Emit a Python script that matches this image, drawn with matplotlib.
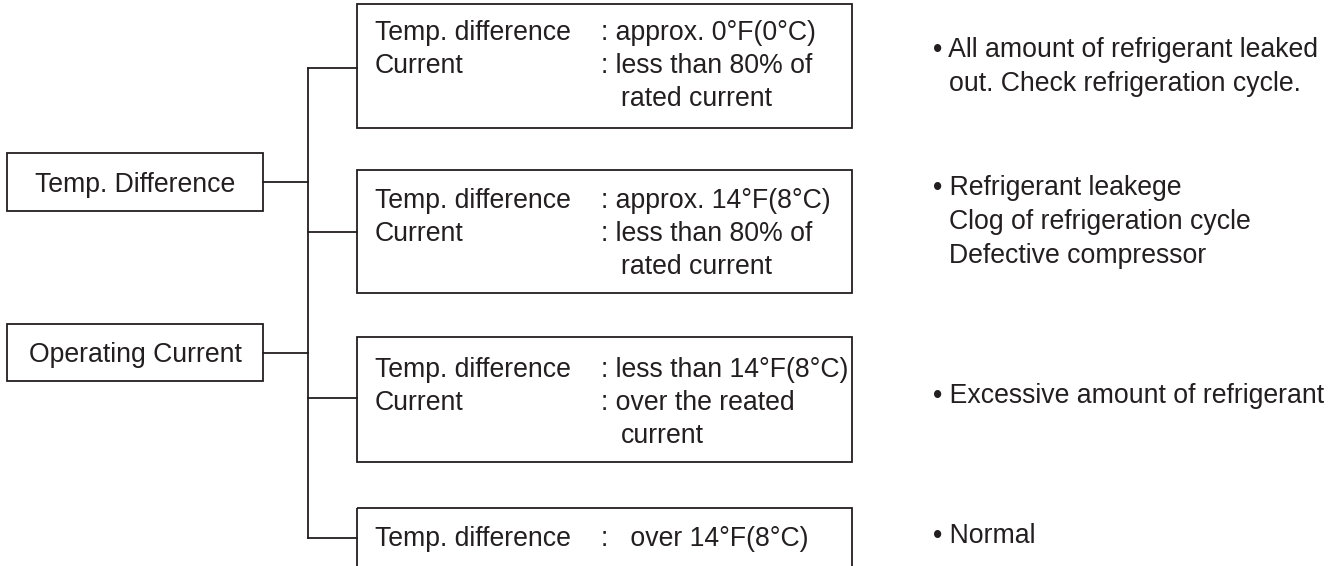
import matplotlib.pyplot as plt
from matplotlib.patches import Rectangle

# diagram text
left_labels = ["Temp. Difference", "Operating Current"]

cond_keys = [
    ["Temp. difference", "Current"],
    ["Temp. difference", "Current"],
    ["Temp. difference", "Current"],
    ["Temp. difference"],
]
cond_values = [
    [": approx. 0°F(0°C)", ": less than 80% of", "rated current"],
    [": approx. 14°F(8°C)", ": less than 80% of", "rated current"],
    [": less than 14°F(8°C)", ": over the reated", "current"],
    [":   over 14°F(8°C)"],
]

results = [
    ["All amount of refrigerant leaked", "out. Check refrigeration cycle."],
    ["Refrigerant leakege", "Clog of refrigeration cycle", "Defective compressor"],
    ["Excessive amount of refrigerant"],
    ["Normal"],
]

# layout (pixels, y down)
W, H = 1337, 566
ink = "#231f20"
fs = 19.2
lw = 1.3

left_box_y = [(153, 211), (324, 381)]
left_x0, left_x1 = 7, 263
trunk_x = 308

mid_x0, mid_x1 = 357, 852
mid_box_y = [(4, 128), (170, 293), (337, 462), (508, 600)]
mid_link_y = [68, 232, 398, 538]
first_base = [40, 208, 377, 546]
row_gap = 33

res_base = [57, 195, 403, 543]
res_gap = 34

plt.rcParams['font.family'] = ['Liberation Sans', 'DejaVu Sans']

fig = plt.figure(figsize=(W / 100, H / 100), dpi=100)
ax = fig.add_axes([0, 0, 1, 1])
ax.set_xlim(0, W)
ax.set_ylim(H, 0)
ax.axis('off')

# left boxes + links to trunk
for label, (y0, y1) in zip(left_labels, left_box_y):
    ax.add_patch(Rectangle((left_x0, y0), left_x1 - left_x0, y1 - y0,
                           fill=False, ec=ink, lw=lw))
    ym = (y0 + y1) / 2
    ax.text((left_x0 + left_x1) / 2, ym + 9.5, label, ha='center',
            va='baseline', fontsize=fs, color=ink)
    ax.plot([left_x1, trunk_x], [ym, ym], color=ink, lw=lw)

# trunk
ax.plot([trunk_x, trunk_x], [mid_link_y[0], mid_link_y[-1]], color=ink, lw=lw)

# condition boxes
for i in range(len(cond_keys)):
    y0, y1 = mid_box_y[i]
    ax.add_patch(Rectangle((mid_x0, y0), mid_x1 - mid_x0, y1 - y0,
                           fill=False, ec=ink, lw=lw, clip_on=True))
    ax.plot([trunk_x, mid_x0], [mid_link_y[i], mid_link_y[i]], color=ink, lw=lw)
    for j, key in enumerate(cond_keys[i]):
        ax.text(375, first_base[i] + j * row_gap, key, ha='left',
                va='baseline', fontsize=fs, color=ink)
    for j, val in enumerate(cond_values[i]):
        x = 601 if val.startswith(":") else 621
        ax.text(x, first_base[i] + j * row_gap, val, ha='left',
                va='baseline', fontsize=fs, color=ink)

# results column
for i, lines in enumerate(results):
    for j, line in enumerate(lines):
        y = res_base[i] + j * res_gap
        if j == 0:
            ax.text(933, y, "• " + line, ha='left', va='baseline',
                    fontsize=fs, color=ink)
        else:
            ax.text(949, y, line, ha='left', va='baseline',
                    fontsize=fs, color=ink)

fig.savefig("out.png", dpi=100)
